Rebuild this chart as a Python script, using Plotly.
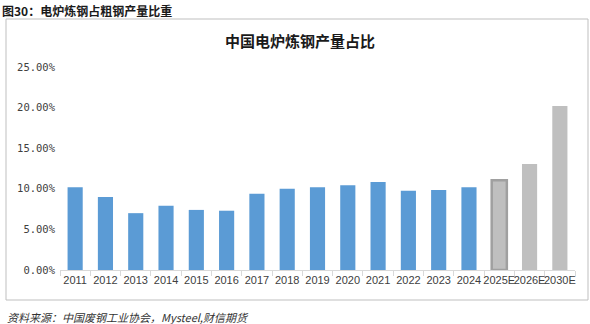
import plotly.graph_objects as go

years = ["2011", "2012", "2013", "2014", "2015", "2016", "2017", "2018", "2019",
         "2020", "2021", "2022", "2023", "2024", "2025E", "2026E", "2030E"]
share = [10.2, 9.0, 7.0, 7.9, 7.4, 7.3, 9.4, 10.0, 10.2,
         10.45, 10.85, 9.75, 9.85, 10.2, 11.05, 13.05, 20.2]
y_ticks = [0, 5, 10, 15, 20, 25]
y_tick_text = ["0.00%", "5.00%", "10.00%", "15.00%", "20.00%", "25.00%"]

BLUE = "#5b9bd5"
GRAY = "#bfbfbf"
fill = [BLUE] * 14 + [GRAY] * 3
line_col = [BLUE] * 14 + ["#a0a0a0", GRAY, GRAY]
line_w = [0] * 14 + [2.5, 0, 0]

fig = go.Figure(go.Bar(
    x=years, y=share,
    marker=dict(color=fill, line=dict(color=line_col, width=line_w)),
    width=0.5,
))

fig.update_layout(
    width=590, height=324,
    margin=dict(l=60, r=15, t=67, b=54),
    paper_bgcolor="white", plot_bgcolor="white",
    showlegend=False,
    font=dict(family="Noto Sans CJK SC, Liberation Sans", color="#595959", size=11),
    xaxis=dict(
        type="category", showline=True, linecolor="#d9d9d9", linewidth=1,
        ticks="outside", tickson="boundaries", ticklen=5, tickcolor="#d9d9d9",
        tickfont=dict(family="Liberation Sans, Arial", size=11, color="#404040"),
        tickangle=0, showgrid=False,
    ),
    yaxis=dict(
        range=[0, 25], tickvals=y_ticks, ticktext=y_tick_text,
        showgrid=False, zeroline=False, showline=False,
        tickfont=dict(family="DejaVu Sans Mono, Liberation Mono", size=10.5, color="#404040"),
        ticklabelstandoff=4,
    ),
    shapes=[dict(type="rect", xref="paper", yref="paper",
                 x0=-54/515, x1=(588-60)/515, y0=(270-300)/203, y1=(270-19)/203,
                 line=dict(color="#bfbfbf", width=1))],
    annotations=[
        dict(text="<b>图30：电炉炼钢占粗钢产量比重</b>", xref="paper", yref="paper",
             x=-60/515, y=(270-10)/203, xanchor="left", yanchor="middle", showarrow=False,
             font=dict(family="Noto Sans CJK SC", size=12, color="#1a1a1a")),
        dict(text="<b>中国电炉炼钢产量占比</b>", xref="paper", yref="paper",
             x=(300-60)/515, y=(270-40)/203, xanchor="center", yanchor="middle", showarrow=False,
             font=dict(family="Noto Sans CJK SC", size=15, color="#1a1a1a")),
        dict(text="<i>资料来源：中国废钢工业协会，Mysteel,财信期货</i>", xref="paper", yref="paper",
             x=-55/515, y=(270-317)/203, xanchor="left", yanchor="middle", showarrow=False,
             font=dict(family="Noto Sans CJK SC", size=11, color="#333333")),
    ],
)

fig.write_html("out.html")
